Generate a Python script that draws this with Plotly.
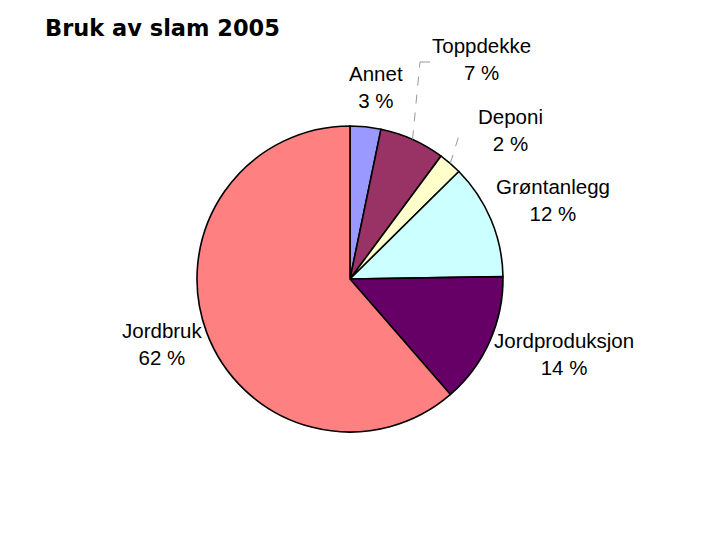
import math
import plotly.graph_objects as go

categories = ["Annet", "Toppdekke", "Deponi", "Grøntanlegg", "Jordproduksjon", "Jordbruk"]
values = [3.25, 6.9, 2.45, 12.15, 13.85, 61.4]
shown_pct = [3, 7, 2, 12, 14, 62]                    # percentages printed in labels
colors = ["#9999FF", "#993366", "#FFFFCC", "#CCFFFF", "#660066", "#FF8080"]

W, H = 720, 540
cx, cy, r = 350, 279, 153

fig = go.Figure(go.Pie(
    labels=categories, values=values, sort=False, direction="clockwise", rotation=0,
    marker=dict(colors=colors, line=dict(color="black", width=1.6)),
    textinfo="none", hoverinfo="label+percent", showlegend=False,
    domain=dict(x=[(cx - r) / W, (cx + r) / W], y=[1 - (cy + r) / H, 1 - (cy - r) / H]),
))

# label centres (pixel) for each category
label_pos = {
    "Annet": (376, 87),
    "Toppdekke": (482, 59),
    "Deponi": (510, 130),
    "Grøntanlegg": (553, 200),
    "Jordproduksjon": (564, 354),
    "Jordbruk": (162, 344),
}
total = sum(values)
for c, p in zip(categories, shown_pct):
    x, y = label_pos[c]
    fig.add_annotation(
        x=x / W, y=1 - y / H, xref="paper", yref="paper", showarrow=False,
        xanchor="center", yanchor="middle",
        text=f"{c}<br>{p} %", align="center",
        font=dict(family="Liberation Sans, Arial", size=20.5, color="black"),
    )

# leader lines from pie edge (at slice mid-angle) to label
leaders = {"Toppdekke": (420, 62), "Deponi": (460, 132)}
cum = 0
for c, v in zip(categories, values):
    mid = (cum + v / 2) / total * 2 * math.pi
    cum += v
    if c in leaders:
        ex = cx + r * math.sin(mid)
        ey = cy - r * math.cos(mid)
        lx, ly = leaders[c]
        fig.add_shape(type="line", xref="paper", yref="paper",
                      x0=ex / W, y0=1 - ey / H, x1=lx / W, y1=1 - ly / H,
                      line=dict(color="#999999", width=1, dash="dash"))
        if c == "Toppdekke":
            fig.add_shape(type="line", xref="paper", yref="paper",
                          x0=lx / W, y0=1 - ly / H, x1=(lx + 10) / W, y1=1 - ly / H,
                          line=dict(color="#999999", width=1))

fig.add_annotation(
    x=43 / W, y=1 - 28 / H, xref="paper", yref="paper", showarrow=False,
    xanchor="left", yanchor="middle", text="<b>Bruk av slam 2005</b>",
    font=dict(family="DejaVu Sans", size=22.5, color="black"),
)

fig.update_layout(width=W, height=H, margin=dict(l=0, r=0, t=0, b=0),
                  paper_bgcolor="white", plot_bgcolor="white")
fig.write_html("out.html", config={"displayModeBar": False},
               post_script="document.body.style.margin='0';")
